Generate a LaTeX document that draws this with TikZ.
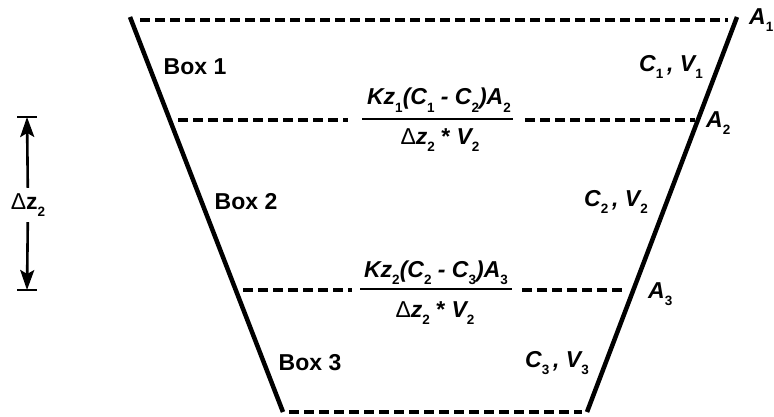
\documentclass[tikz,border=0pt]{standalone}
\usepackage{fontspec}
\setmainfont{Liberation Sans}
\usetikzlibrary{arrows.meta}
\newcommand{\sbs}[1]{\raisebox{-0.32em}{\fontsize{13.5}{13.5}\selectfont\upshape #1}}
\newcommand{\dlt}{{\mdseries\upshape Δ}}

\begin{document}
\begin{tikzpicture}[x=1pt,y=-1pt,
    side/.style={line width=4.5pt},
    level/.style={line width=4.2pt, dash pattern=on 10pt off 5pt},
    bar/.style={line width=2pt},
    lbl/.style={font=\fontsize{23}{27}\selectfont\bfseries, inner sep=0pt},
    var/.style={font=\fontsize{23}{27}\selectfont\bfseries\itshape, inner sep=0pt},
    dzarrow/.style={line width=2.6pt, -{Stealth[length=20pt,width=14pt,inset=4pt]}}]
    \useasboundingbox (0,0) rectangle (774,417);
    % corners of the tank
    \coordinate (tl) at (130,17);
    \coordinate (tr) at (737,17);
    \coordinate (bl) at (283,412);
    \coordinate (br) at (587,412);
    % sloped walls
    \draw[side] (tl) -- (bl);
    \draw[side] (tr) -- (br);
    % dashed levels
    \draw[level] (140,20) -- (728,20);
    \draw[level] (178,120) -- (348,120);
    \draw[level] (525,120) -- (695,120);
    \draw[level] (243,290) -- (352,290);
    \draw[level] (522,290) -- (626,290);
    \draw[level] (289,412) -- (582,412);
    % label the boxes
    \node[lbl] (box1) at (195,67) {Box 1};
    \node[lbl] (box2) at (246,202) {Box 2};
    \node[lbl] (box3) at (310,363) {Box 3};
    \node[var] (cv1) at (671,67) {C\sbs{1}\,, V\sbs{1}};
    \node[var] (cv2) at (616,202) {C\sbs{2}\,, V\sbs{2}};
    \node[var] (cv3) at (557,363) {C\sbs{3}\,, V\sbs{3}};
    % label the areas
    \node[var, anchor=west] (a1) at (749,20) {A\sbs{1}};
    \node[var, anchor=west] (a2) at (706,123) {A\sbs{2}};
    \node[var, anchor=west] (a3) at (648,294) {A\sbs{3}};
    % exchange between box 1 and box 2
    \node[var] (num1) at (439,100) {Kz\sbs{1}(C\sbs{1} - C\sbs{2})A\sbs{2}};
    \draw[bar] (362,119) -- (513,119);
    \node[var] (den1) at (440,140) {\dlt z\sbs{2} {\upshape *} V\sbs{2}};
    % exchange between box 2 and box 3
    \node[var] (num2) at (436,273) {Kz\sbs{2}(C\sbs{2} - C\sbs{3})A\sbs{3}};
    \draw[bar] (360,289) -- (512,289);
    \node[var] (den2) at (435,313) {\dlt z\sbs{2} {\upshape *} V\sbs{2}};
    % thickness of box 2
    \coordinate (dztop) at (27,117);
    \coordinate (dzbot) at (27,290);
    \node[lbl, minimum height=34pt] (dz) at (28,205) {\dlt z\sbs{2}};
    \draw[line width=2.4pt] (17,117) -- (37,117);
    \draw[line width=2.4pt] (17,290) -- (37,290);
    \draw[dzarrow] (dz) -- (dztop);
    \draw[dzarrow] (dz) -- (dzbot);
\end{tikzpicture}
\end{document}
